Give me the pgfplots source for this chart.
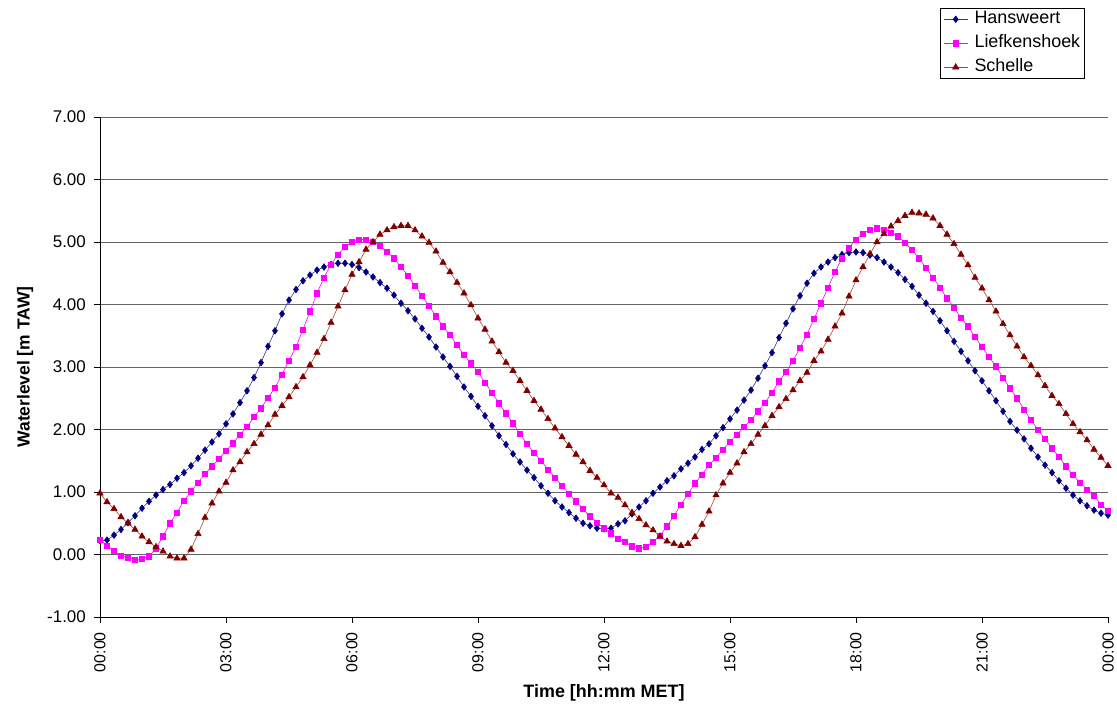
\documentclass[border=0pt]{standalone}
\usepackage{pgfplots}
\pgfplotsset{compat=1.18}
\usepackage{pgfplotstable}
\usepackage{fontspec}
\setmainfont{Liberation Sans}
\definecolor{hans}{RGB}{0,0,128}
\definecolor{hansline}{RGB}{50,50,150}
\definecolor{lief}{RGB}{255,0,255}
\definecolor{sch}{RGB}{128,0,0}
\definecolor{schline}{RGB}{165,70,45}
\definecolor{gridc}{RGB}{100,100,100}

\pgfplotstableread{
t H L S
0 0.22 0.24 0.98
10 0.23 0.14 0.84
20 0.31 0.06 0.73
30 0.40 -0.02 0.60
40 0.51 -0.05 0.50
50 0.62 -0.08 0.40
60 0.74 -0.07 0.29
70 0.85 -0.03 0.20
80 0.95 0.10 0.12
90 1.04 0.29 0.05
100 1.12 0.50 -0.03
110 1.22 0.67 -0.06
120 1.31 0.86 -0.06
130 1.42 1.01 0.08
140 1.54 1.15 0.33
150 1.67 1.29 0.59
160 1.80 1.41 0.82
170 1.93 1.53 1.01
180 2.09 1.66 1.15
190 2.25 1.78 1.35
200 2.43 1.92 1.48
210 2.62 2.04 1.64
220 2.83 2.20 1.77
230 3.07 2.34 1.92
240 3.33 2.51 2.07
250 3.58 2.67 2.24
260 3.85 2.88 2.38
270 4.07 3.10 2.52
280 4.24 3.32 2.68
290 4.38 3.60 2.84
300 4.47 3.89 3.03
310 4.55 4.18 3.23
320 4.60 4.43 3.45
330 4.64 4.64 3.71
340 4.66 4.80 3.97
350 4.66 4.92 4.23
360 4.64 5.00 4.48
370 4.59 5.04 4.68
380 4.52 5.04 4.88
390 4.44 5.00 5.00
400 4.35 4.94 5.12
410 4.26 4.84 5.19
420 4.15 4.74 5.24
430 4.02 4.60 5.26
440 3.90 4.46 5.26
450 3.77 4.30 5.19
460 3.62 4.14 5.09
470 3.48 3.98 4.99
480 3.32 3.81 4.85
490 3.16 3.65 4.67
500 3.01 3.51 4.52
510 2.85 3.35 4.35
520 2.68 3.19 4.18
530 2.53 3.06 3.99
540 2.37 2.92 3.78
550 2.22 2.75 3.60
560 2.06 2.59 3.41
570 1.90 2.42 3.24
580 1.76 2.26 3.07
590 1.61 2.10 2.94
600 1.48 1.93 2.78
610 1.35 1.77 2.62
620 1.23 1.63 2.46
630 1.10 1.50 2.32
640 0.98 1.36 2.17
650 0.86 1.23 2.02
660 0.76 1.10 1.88
670 0.67 0.97 1.74
680 0.58 0.85 1.60
690 0.50 0.73 1.48
700 0.46 0.61 1.34
710 0.42 0.51 1.23
720 0.41 0.42 1.11
730 0.42 0.34 0.98
740 0.49 0.25 0.91
750 0.54 0.20 0.79
760 0.65 0.13 0.67
770 0.76 0.10 0.57
780 0.86 0.12 0.47
790 0.98 0.20 0.39
800 1.08 0.30 0.29
810 1.18 0.45 0.21
820 1.26 0.62 0.17
830 1.37 0.80 0.14
840 1.46 0.97 0.17
850 1.56 1.14 0.28
860 1.68 1.28 0.48
870 1.77 1.43 0.69
880 1.90 1.55 0.95
890 2.03 1.68 1.14
900 2.17 1.80 1.31
910 2.31 1.92 1.46
920 2.47 2.04 1.64
930 2.63 2.15 1.77
940 2.82 2.29 1.92
950 3.02 2.43 2.06
960 3.23 2.59 2.22
970 3.47 2.77 2.36
980 3.70 2.92 2.49
990 3.93 3.10 2.63
1000 4.14 3.31 2.78
1010 4.34 3.52 2.91
1020 4.50 3.77 3.10
1030 4.60 4.02 3.25
1040 4.68 4.27 3.44
1050 4.75 4.52 3.65
1060 4.80 4.74 3.86
1070 4.83 4.91 4.13
1080 4.84 5.04 4.39
1090 4.83 5.13 4.60
1100 4.79 5.20 4.81
1110 4.75 5.22 5.00
1120 4.68 5.20 5.13
1130 4.60 5.15 5.25
1140 4.51 5.09 5.34
1150 4.40 4.99 5.42
1160 4.29 4.87 5.47
1170 4.15 4.74 5.46
1180 4.02 4.59 5.44
1190 3.89 4.43 5.38
1200 3.74 4.27 5.26
1210 3.58 4.10 5.12
1220 3.41 3.95 4.97
1230 3.25 3.79 4.80
1240 3.10 3.65 4.63
1250 2.94 3.48 4.43
1260 2.78 3.32 4.26
1270 2.62 3.16 4.07
1280 2.46 3.01 3.89
1290 2.29 2.83 3.69
1300 2.13 2.66 3.51
1310 1.99 2.50 3.33
1320 1.85 2.32 3.16
1330 1.70 2.15 3.02
1340 1.56 1.99 2.87
1350 1.43 1.85 2.70
1360 1.31 1.70 2.54
1370 1.18 1.56 2.41
1380 1.06 1.41 2.25
1390 0.95 1.27 2.09
1400 0.86 1.15 1.96
1410 0.78 1.04 1.83
1420 0.71 0.94 1.68
1430 0.66 0.80 1.55
1440 0.63 0.70 1.42
}\data

\begin{document}
\begin{tikzpicture}
\begin{axis}[name=ax,
  scale only axis, width=1008bp, height=500bp,
  xmin=0, xmax=1440, ymin=-1, ymax=7,
  clip=false,
  xtick={0,180,...,1440},
  xticklabels={00:00,03:00,06:00,09:00,12:00,15:00,18:00,21:00,00:00},
  ytick={-1,0,...,7},
  /pgf/number format/fixed,
  /pgf/number format/fixed zerofill,
  /pgf/number format/precision=2,
  /pgf/number format/assume math mode=true,
  axis lines*=left,
  axis line style={black, line width=0.8bp},
  tick style={black, line width=0.8bp},
  tick align=outside,
  major tick length=6bp,
  ymajorgrids,
  grid style={gridc, line width=0.8bp},
  xticklabel style={font=\fontsize{16}{19}\selectfont, rotate=90, anchor=east, inner sep=0pt, xshift=-9bp},
  yticklabel style={font=\fontsize{17}{20}\selectfont, anchor=east, inner sep=0pt, xshift=-8bp},
  xlabel={\textbf{Time [hh:mm MET]}},
  ylabel={\textbf{Waterlevel [m TAW]}},
  xlabel style={font=\fontsize{18}{21}\selectfont, at={(axis description cs:0.5,-0.152)}, anchor=center},
  ylabel style={font=\fontsize{17.5}{21}\selectfont, at={(axis description cs:-0.0744,0.5)}, anchor=center, rotate=0},
  legend style={at={(axis description cs:1,1)}, anchor=north east,
    xshift=-23bp, yshift=109bp, draw=black, line width=0.6bp,
    font=\fontsize{18}{21}\selectfont,
    inner xsep=3bp, inner ysep=1bp,
    nodes={inner sep=1.5bp, text height=13bp, text depth=4bp},
    row sep=4bp,
    /tikz/every odd column/.append style={column sep=5bp}},
  legend cell align=left,
  legend image code/.code={\draw[mark repeat=2,mark phase=2,#1] plot coordinates {(0bp,0bp) (12bp,0bp) (24bp,0bp)};},
]
\addplot[color=hansline, line width=0.6bp, mark=diamond*, mark size=3.3bp,
  mark options={draw=hans, fill=hans, solid}] table[x=t,y=H]{\data};
\addplot[color=lief, line width=0.6bp, mark=square*, mark size=2.6bp,
  mark options={draw=lief, fill=lief, solid}] table[x=t,y=L]{\data};
\addplot[color=schline, line width=0.6bp, mark=triangle*, mark size=3.6bp,
  mark options={draw=sch, fill=sch, solid}] table[x=t,y=S]{\data};
\legend{Hansweert, Liefkenshoek, Schelle}
\end{axis}
\pgfresetboundingbox
\path[use as bounding box] ([xshift=-100bp,yshift=-92bp]ax.south west) rectangle ([xshift=9bp,yshift=117bp]ax.north east);
\end{tikzpicture}
\end{document}
